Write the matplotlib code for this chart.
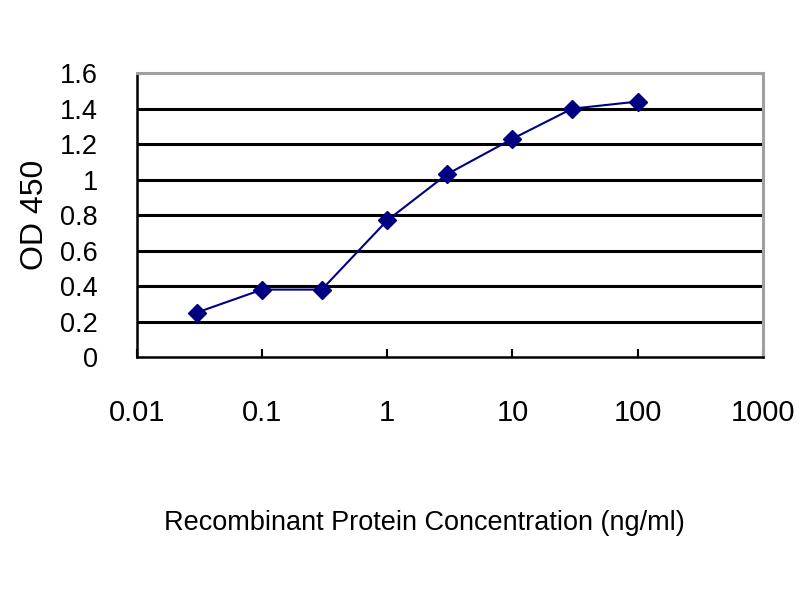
import matplotlib
matplotlib.use("Agg")
import matplotlib.pyplot as plt
from matplotlib.ticker import FixedLocator, NullLocator

# ELISA standard curve
concentration = [0.03, 0.1, 0.3, 1, 3, 10, 30, 100]
od450 = [0.25, 0.38, 0.38, 0.77, 1.03, 1.23, 1.40, 1.44]
x_ticks = [0.01, 0.1, 1, 10, 100, 1000]
x_labels = ["0.01", "0.1", "1", "10", "100", "1000"]
y_ticks = [0, 0.2, 0.4, 0.6, 0.8, 1, 1.2, 1.4, 1.6]
y_labels = ["0", "0.2", "0.4", "0.6", "0.8", "1", "1.2", "1.4", "1.6"]

plt.rcParams['font.family'] = ['Liberation Sans', 'DejaVu Sans']

fig = plt.figure(figsize=(8, 6), dpi=100)
ax = fig.add_axes([0.171, 0.405, 0.7825, 0.473])

ax.set_xscale('log')
ax.set_xlim(0.01, 1000)
ax.set_ylim(0, 1.6)

# horizontal gridlines, the top one is grey like the frame
for y in y_ticks[1:-1]:
    ax.axhline(y, color='black', lw=2.2, zorder=1)

ax.plot(concentration, od450, color='#000080', lw=1.5, marker='D',
        markersize=9, markerfacecolor='#000080', markeredgecolor='#000080', zorder=3)

ax.xaxis.set_major_locator(FixedLocator(x_ticks))
ax.xaxis.set_minor_locator(NullLocator())
ax.set_xticklabels(x_labels, fontsize=21)
ax.set_yticks(y_ticks)
ax.set_yticklabels(y_labels, fontsize=19.5)

ax.tick_params(axis='x', direction='in', length=6, width=1.5, pad=30)
ax.tick_params(axis='y', length=0, pad=28)

for side in ['left', 'bottom']:
    ax.spines[side].set_color('black')
    ax.spines[side].set_linewidth(1.8)
for side in ['top', 'right']:
    ax.spines[side].set_color('#a0a0a0')
    ax.spines[side].set_linewidth(2.2)

ax.set_ylabel('OD 450', fontsize=23)
ax.yaxis.set_label_coords(-0.138, 0.5)
ax.set_xlabel('Recombinant Protein Concentration (ng/ml)', fontsize=19.5)
ax.xaxis.set_label_coords(0.46, -0.54)

fig.savefig('out.png', dpi=100)
